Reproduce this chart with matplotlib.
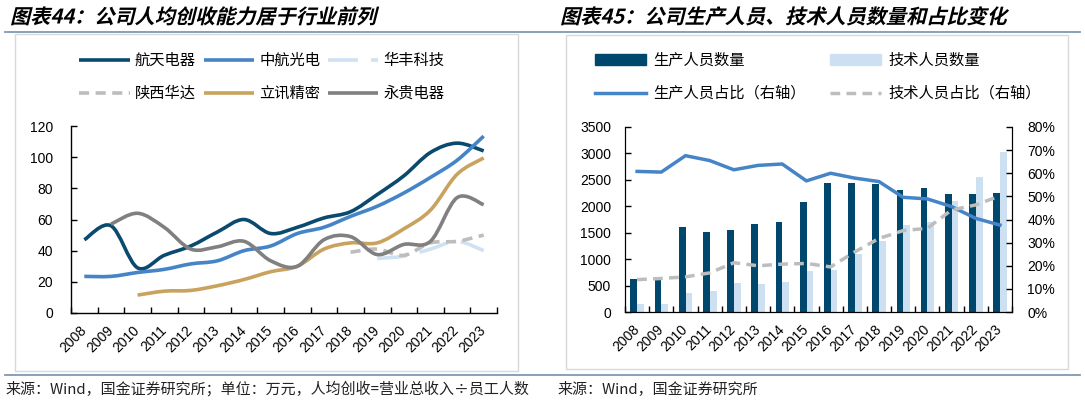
import numpy as np
import matplotlib
matplotlib.use("Agg")
import matplotlib.pyplot as plt
from matplotlib.path import Path
from matplotlib.patches import PathPatch, Rectangle, Patch
from matplotlib.lines import Line2D
from matplotlib.transforms import Affine2D
from matplotlib.patheffects import AbstractPathEffect
from matplotlib.ticker import FuncFormatter, MultipleLocator

# ---------------- data ----------------
years = [str(y) for y in range(2008, 2024)]

# left chart: revenue per employee (万元)
htdq = [47, 56, 29, 37, 43, 52, 60, 51, 55, 61, 65, 76, 88, 103, 109, 104]          # 航天电器
zhgd = [23.5, 23.5, 26, 28, 31.5, 33.5, 40, 43, 51, 55, 62, 68.5, 77, 87, 98, 113.5]  # 中航光电
hfkj = [None] * 11 + [35, 36.5, 41, 46, 40]                                          # 华丰科技
sxhd = [None] * 10 + [39, 41, 37, 45, 46, 50]                                        # 陕西华达
lxjm = [None, None, 11.5, 14, 14.5, 17.5, 21.5, 26.5, 30, 41, 45, 45, 54, 66, 89, 99.5]  # 立讯精密
ygdq = [None, 57, 64, 55, 41, 42.5, 46, 33.5, 30, 47, 49, 37.5, 44, 46, 74, 69.5]    # 永贵电器

left_names = ["航天电器", "中航光电", "华丰科技", "陕西华达", "立讯精密", "永贵电器"]

# right chart
prod_cnt = [630, 620, 1600, 1520, 1560, 1660, 1700, 2080, 2440, 2450, 2430, 2310, 2340, 2240, 2230, 2250]
tech_cnt = [145, 158, 355, 392, 550, 525, 563, 785, 804, 1095, 1350, 1640, 1710, 2100, 2560, 3030]
prod_pct = [0.608, 0.605, 0.676, 0.655, 0.615, 0.634, 0.640, 0.567, 0.600, 0.579, 0.564, 0.496, 0.489, 0.456, 0.405, 0.376]
tech_pct = [0.140, 0.145, 0.152, 0.169, 0.213, 0.200, 0.207, 0.210, 0.195, 0.260, 0.318, 0.352, 0.362, 0.441, 0.463, 0.502]

right_names = ["生产人员数量", "技术人员数量", "生产人员占比（右轴）", "技术人员占比（右轴）"]

# ---------------- style ----------------
C_NAVY = "#0B4A6F"
C_BLUE = "#4584C6"
C_LIGHT = "#CFE1F3"
C_GRAYD = "#BDBDBD"
C_GOLD = "#C9A25E"
C_GRAY = "#808080"
C_BAR_NAVY = "#00476E"
C_BAR_LIGHT = "#CCE0F2"
C_RULE = "#7F9AB3"
C_BOX = "#D9D9D9"

CJK = ["Noto Sans CJK SC", "DejaVu Sans"]
NUM = ["Liberation Sans", "DejaVu Sans"]

W, H = 1085, 404
fig = plt.figure(figsize=(W / 100, H / 100), dpi=100)


def fx(px):
    return px / W


def fy(py):
    return 1 - py / H


class Skew(AbstractPathEffect):
    def __init__(self, deg=14):
        super().__init__()
        self.deg = deg

    def draw_path(self, renderer, gc, tpath, affine, rgbFace=None):
        x0, y0 = affine.transform((0, 0))
        sk = Affine2D().translate(-x0, -y0).skew_deg(self.deg, 0).translate(x0, y0)
        renderer.draw_path(gc, tpath, affine + sk, rgbFace)


# rules and boxes
for yy in (32, 375):
    fig.add_artist(Line2D([fx(5), fx(1080)], [fy(yy), fy(yy)], color=C_RULE, lw=1.3,
                          transform=fig.transFigure))
for (x0, y0, x1, y1) in [(15, 34, 518, 371), (566, 35, 1068, 369)]:
    fig.add_artist(Rectangle((fx(x0), fy(y1)), fx(x1) - fx(x0), fy(y0) - fy(y1),
                             transform=fig.transFigure, fill=False, edgecolor=C_BOX, lw=1.0))

# titles
fig.text(fx(10), fy(17), "图表44：公司人均创收能力居于行业前列", fontsize=14.5, weight="bold",
         family=CJK, va="center", ha="left", path_effects=[Skew(14)])
fig.text(fx(560), fy(17), "图表45：公司生产人员、技术人员数量和占比变化", fontsize=14.5, weight="bold",
         family=CJK, va="center", ha="left", path_effects=[Skew(14)])

# footnotes
fig.text(fx(5), fy(389), "来源：Wind，国金证券研究所；单位：万元，人均创收=营业总收入÷员工人数",
         fontsize=10.8, family=CJK, weight="light", va="center", ha="left", color="#222222")
fig.text(fx(557), fy(389), "来源：Wind，国金证券研究所",
         fontsize=10.8, family=CJK, weight="light", va="center", ha="left", color="#222222")


def smooth_path(values):
    pts = np.array([(i, v) for i, v in enumerate(values) if v is not None], dtype=float)
    n = len(pts)
    verts = [tuple(pts[0])]
    codes = [Path.MOVETO]
    for i in range(n - 1):
        p0 = pts[i - 1] if i > 0 else pts[i]
        p1 = pts[i]
        p2 = pts[i + 1]
        p3 = pts[i + 2] if i + 2 < n else pts[i + 1]
        c1 = p1 + (p2 - p0) / 6.0
        c2 = p2 - (p3 - p1) / 6.0
        verts += [tuple(c1), tuple(c2), tuple(p2)]
        codes += [Path.CURVE4] * 3
    return Path(verts, codes)


def style_cat_axis(ax, n):
    ax.set_xlim(-0.5, n - 0.5)
    ax.set_xticks(range(n))
    ax.set_xticklabels(years, rotation=45, ha="right", va="center", rotation_mode="anchor",
                       family=NUM, fontsize=10)
    ax.set_xticks(np.arange(-0.5, n, 1.0), minor=True)
    ax.tick_params(axis="x", which="major", length=0, pad=11)
    ax.tick_params(axis="x", which="minor", length=4, direction="in", width=1)


# ---------------- left chart ----------------
axL = fig.add_axes([fx(71), fy(313), fx(497) - fx(71), fy(126) - fy(313)])
left_series = [htdq, zhgd, hfkj, sxhd, lxjm, ygdq]
left_colors = [C_NAVY, C_BLUE, C_LIGHT, C_GRAYD, C_GOLD, C_GRAY]
left_styles = ["-", "-", (0, (8.3, 3.6)), (0, (2.8, 1.8)), "-", "-"]
handles = {}
for name, vals, col, ls in zip(left_names, left_series, left_colors, left_styles):
    pp = PathPatch(smooth_path(vals), fill=False, edgecolor=col, lw=2.6, linestyle=ls,
                   capstyle="butt", joinstyle="round")
    axL.add_patch(pp)
    handles[name] = Line2D([], [], color=col, lw=2.6, linestyle=ls, solid_capstyle="butt")

axL.set_ylim(0, 120)
axL.yaxis.set_major_locator(MultipleLocator(20))
style_cat_axis(axL, len(years))
axL.tick_params(axis="y", length=4, direction="in", width=1, pad=13, labelsize=10)
for lab in axL.get_yticklabels():
    lab.set_family(NUM)
for s in ("top", "right"):
    axL.spines[s].set_visible(False)
for s in ("left", "bottom"):
    axL.spines[s].set_linewidth(1.0)

order = ["航天电器", "陕西华达", "中航光电", "立讯精密", "华丰科技", "永贵电器"]
legL = fig.legend([handles[k] for k in order], order, loc="center",
                  bbox_to_anchor=(fx(262), fy(77)), ncol=3, frameon=False,
                  prop={"family": CJK, "size": 11, "weight": "light"}, handlelength=3.3,
                  handletextpad=0.35, columnspacing=0.5, labelspacing=1.05)

# ---------------- right chart ----------------
axR = fig.add_axes([fx(625), fy(312), fx(1012) - fx(625), fy(127) - fy(312)])
x = np.arange(len(years))
bw = 0.28
axR.bar(x - 0.135, prod_cnt, width=bw, color=C_BAR_NAVY, zorder=2)
axR.bar(x + 0.145, tech_cnt, width=bw, color=C_BAR_LIGHT, zorder=2)
axR.set_ylim(0, 3500)
axR.yaxis.set_major_locator(MultipleLocator(500))
style_cat_axis(axR, len(years))
axR.tick_params(axis="y", length=4, direction="in", width=1, pad=10, labelsize=10)
for lab in axR.get_yticklabels():
    lab.set_family(NUM)
axR.spines["top"].set_visible(False)

ax2 = axR.twinx()
ax2.plot(x, prod_pct, color=C_BLUE, lw=2.5, solid_joinstyle="round", zorder=3)
ax2.plot(x, tech_pct, color=C_GRAYD, lw=2.5, linestyle=(0, (2.8, 1.8)), zorder=3)
ax2.set_ylim(0, 0.8)
ax2.yaxis.set_major_locator(MultipleLocator(0.1))
ax2.yaxis.set_major_formatter(FuncFormatter(lambda v, p: f"{v * 100:.0f}%"))
ax2.tick_params(axis="y", length=4, direction="in", width=1, pad=11, labelsize=10)
for lab in ax2.get_yticklabels():
    lab.set_family(NUM)
ax2.spines["top"].set_visible(False)

hR = [Patch(color=C_BAR_NAVY), Line2D([], [], color=C_BLUE, lw=2.5),
      Patch(color=C_BAR_LIGHT), Line2D([], [], color=C_GRAYD, lw=2.5, linestyle=(0, (2.8, 1.8)))]
lR = [right_names[0], right_names[2], right_names[1], right_names[3]]
legR = fig.legend(hR, lR, loc="center", bbox_to_anchor=(fx(818), fy(77)), ncol=2, frameon=False,
                  prop={"family": CJK, "size": 11, "weight": "light"}, handlelength=3.3,
                  handletextpad=0.5, columnspacing=1.6, labelspacing=1.05)

fig.savefig("out.png", dpi=100, facecolor="white")
